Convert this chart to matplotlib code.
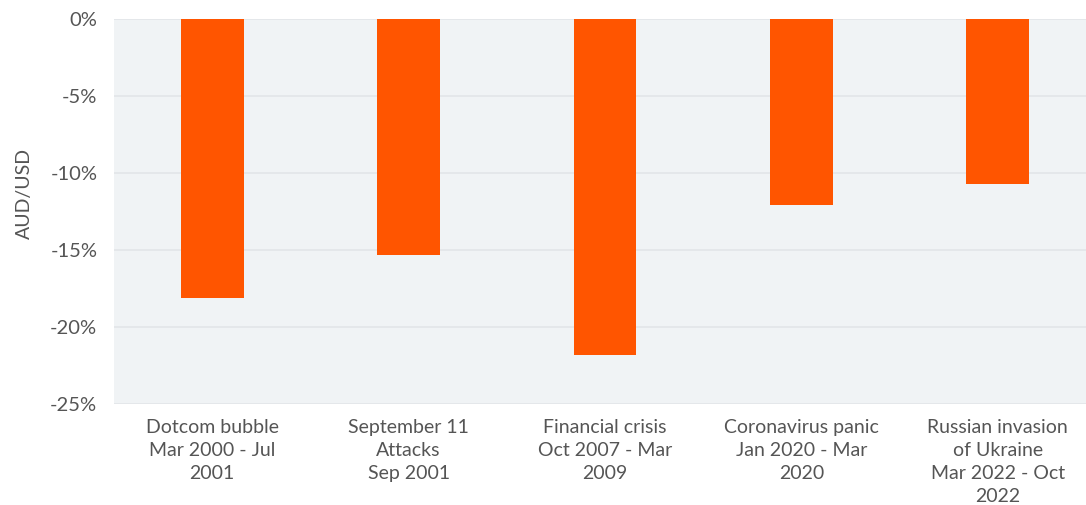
import matplotlib.pyplot as plt
from matplotlib.ticker import FuncFormatter

plt.rcParams['font.family'] = ['Lato', 'DejaVu Sans']

# AUD/USD drawdowns during market crises (%)
events = ['Dotcom bubble\nMar 2000 - Jul\n2001',
          'September 11\nAttacks\nSep 2001',
          'Financial crisis\nOct 2007 - Mar\n2009',
          'Coronavirus panic\nJan 2020 - Mar\n2020',
          'Russian invasion\nof Ukraine\nMar 2022 - Oct\n2022']
drawdown = [-18.1, -15.3, -21.8, -12.1, -10.7]
yticks = [0, -5, -10, -15, -20, -25]

text_color = '#555555'
W, H = 1086, 505

fig = plt.figure(figsize=(W / 100, H / 100), dpi=100)
# axes runs a little past the right edge of the canvas
ax = fig.add_axes([114 / W, 1 - 404 / H, 982 / W, 385 / H])
ax.set_facecolor('#f0f3f5')

x = range(len(events))
ax.bar(x, drawdown, width=0.32, color='#ff5500', zorder=3)

ax.set_ylim(-25, 0)
ax.set_xlim(-0.5, len(events) - 0.5)
ax.set_yticks(yticks)
ax.yaxis.set_major_formatter(FuncFormatter(lambda v, _: f'{v:.0f}%'))
ax.grid(axis='y', color='#e2e5e8', linewidth=1.2, zorder=0)
ax.set_xticks(list(x))
ax.set_xticklabels(events, fontsize=14, color=text_color, linespacing=1.42)
ax.tick_params(axis='both', length=0, labelsize=14.5, labelcolor=text_color)
ax.tick_params(axis='x', labelsize=14, pad=11)
ax.tick_params(axis='y', pad=12)
for s in ax.spines.values():
    s.set_visible(False)

fig.text(24 / W, 1 - 193.5 / H, 'AUD/USD', rotation=90, ha='center', va='center',
         fontsize=14, color=text_color)

fig.savefig('out.png', dpi=100)
